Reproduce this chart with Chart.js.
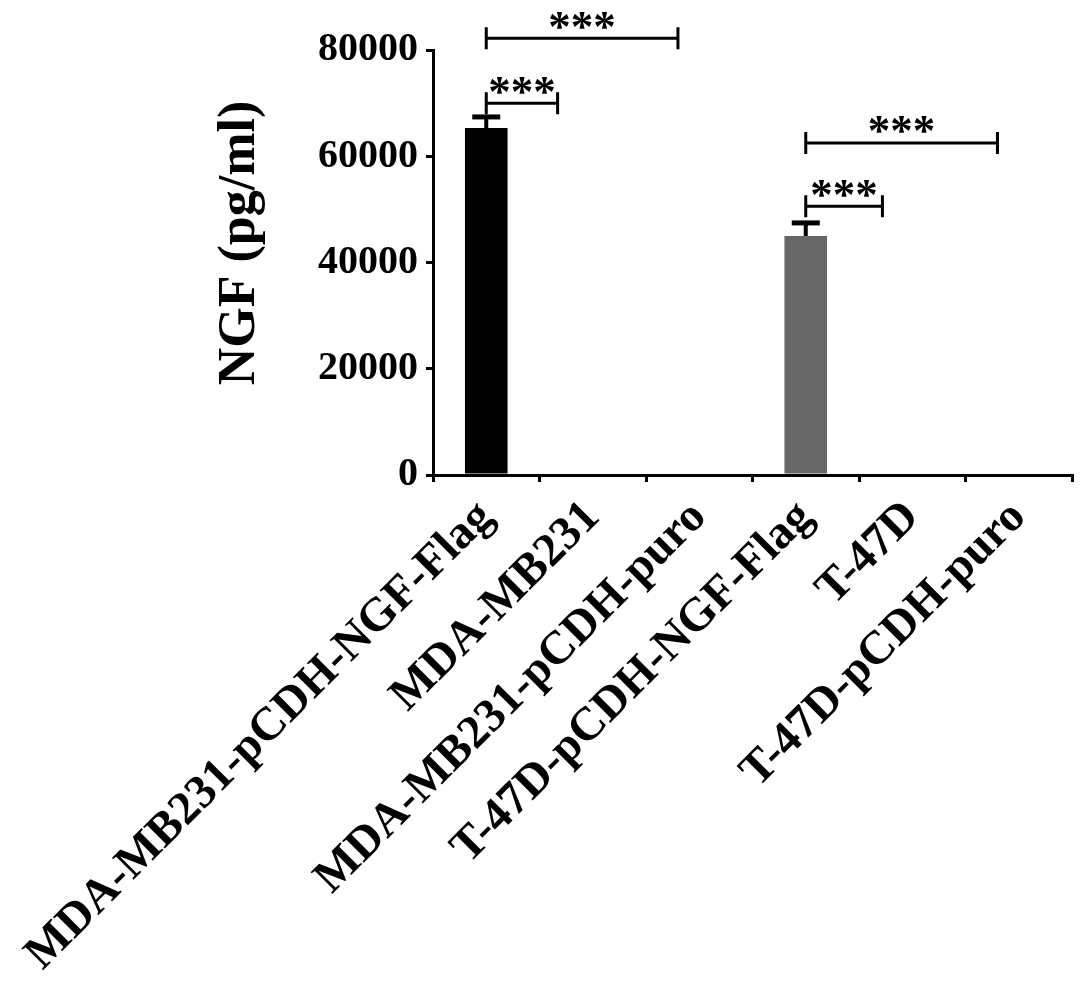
<!DOCTYPE html>
<html>
  <head>
    <title>NGF secretion</title>
    <style>
      body { margin: 0; background: #fff; }
      #wrap { width: 1087px; height: 983px; }
    </style>
  </head>
  <body>
    <div id="wrap"><canvas id="ngfChart" width="1087" height="983"></canvas></div>

    <script src="https://cdn.jsdelivr.net/npm/chart.js"></script>
    <script>
      // data
      const groups = [
        'MDA-MB231-pCDH-NGF-Flag',
        'MDA-MB231',
        'MDA-MB231-pCDH-puro',
        'T-47D-pCDH-NGF-Flag',
        'T-47D',
        'T-47D-pCDH-puro'
      ];
      const ngfValues = [65300, 0, 0, 45000, 0, 0];
      const ngfErrors = [2100, 0, 0, 2450, 0, 0];
      const barColors = ['#000000', '#000000', '#000000', '#676767', '#676767', '#676767'];
      const yTicks = [0, 20000, 40000, 60000, 80000];

      // significance brackets (category index from / to, height in pg/ml)
      const bracketFrom = [0, 0, 3, 3];
      const bracketTo = [0.67, 1.8, 3.72, 4.8];
      const bracketLevel = [70000, 82200, 50600, 62500];
      const bracketLabel = ['***', '***', '***', '***'];

      const serif = "'Liberation Serif', 'Times New Roman', serif";

      // error bars + brackets drawn on top of the bars
      const extrasPlugin = {
        id: 'extras',
        afterDatasetsDraw(chart) {
          const ctx = chart.ctx;
          const x = chart.scales.x;
          const y = chart.scales.y;
          ctx.save();
          ctx.strokeStyle = '#000';
          ctx.lineCap = 'butt';

          // error bars (upper only)
          ngfErrors.forEach((err, i) => {
            if (!err) return;
            const cx = x.getPixelForValue(i);
            const yTop = y.getPixelForValue(ngfValues[i]);
            const yCap = y.getPixelForValue(ngfValues[i] + err);
            ctx.lineWidth = 4;
            ctx.beginPath();
            ctx.moveTo(cx, yTop);
            ctx.lineTo(cx, yCap);
            ctx.stroke();
            ctx.lineWidth = 5;
            ctx.beginPath();
            ctx.moveTo(cx - 14, yCap);
            ctx.lineTo(cx + 14, yCap);
            ctx.stroke();
          });

          // brackets
          ctx.font = 'bold 45px ' + serif;
          ctx.fillStyle = '#000';
          ctx.textAlign = 'center';
          ctx.textBaseline = 'alphabetic';
          bracketFrom.forEach((from, i) => {
            const x1 = x.getPixelForValue(from);
            const x2 = x.getPixelForValue(bracketTo[i]);
            const by = y.getPixelForValue(bracketLevel[i]);
            ctx.lineWidth = 3;
            ctx.beginPath();
            ctx.moveTo(x1, by);
            ctx.lineTo(x2, by);
            ctx.moveTo(x1, by - 11);
            ctx.lineTo(x1, by + 11);
            ctx.moveTo(x2, by - 11);
            ctx.lineTo(x2, by + 11);
            ctx.stroke();

            const m = ctx.measureText(bracketLabel[i]);
            const inkMid = (m.actualBoundingBoxAscent - m.actualBoundingBoxDescent) / 2;
            ctx.fillText(bracketLabel[i], (x1 + x2) / 2, by - 18 + inkMid);
          });
          ctx.restore();
        }
      };

      const ctx = document.getElementById('ngfChart').getContext('2d');
      const chart = new Chart(ctx, {
        type: 'bar',
        data: {
          labels: groups,
          datasets: [{
            label: 'NGF',
            data: ngfValues,
            backgroundColor: barColors,
            borderWidth: 0,
            barPercentage: 0.4,
            categoryPercentage: 1.0
          }]
        },
        options: {
          responsive: false,
          animation: false,
          layout: { padding: { left: 209, top: 50, right: 15, bottom: 0 } },
          plugins: {
            legend: { display: false },
            tooltip: { enabled: false }
          },
          scales: {
            x: {
              offset: true,
              grid: {
                display: true,
                drawOnChartArea: false,
                color: '#000',
                lineWidth: 3,
                tickLength: 7
              },
              border: { color: '#000', width: 3 },
              ticks: {
                color: '#000',
                font: { family: serif, weight: 'bold', size: 47 },
                minRotation: 45,
                maxRotation: 45,
                autoSkip: false,
                padding: 8
              },
              afterFit(scale) {
                scale.height = 508;
                scale.paddingLeft = 0;
                scale.paddingRight = 0;
              }
            },
            y: {
              min: 0,
              max: 80000,
              afterBuildTicks(scale) {
                scale.ticks = yTicks.map(v => ({ value: v }));
              },
              grid: {
                display: true,
                drawOnChartArea: false,
                color: '#000',
                lineWidth: 3,
                tickLength: 7
              },
              border: { color: '#000', width: 3 },
              ticks: {
                color: '#000',
                font: { family: serif, weight: 'bold', size: 40 },
                padding: 8,
                callback: v => String(v)
              },
              title: {
                display: true,
                // leading spaces nudge the title a little above the centre, as in the figure
                text: '   NGF (pg/ml)',
                color: '#000',
                font: { family: serif, weight: 'bold', size: 52 },
                padding: 0
              },
              afterFit(scale) {
                scale.width = 433 - 209;
              }
            }
          }
        },
        plugins: [extrasPlugin]
      });
    </script>
  </body>
</html>
